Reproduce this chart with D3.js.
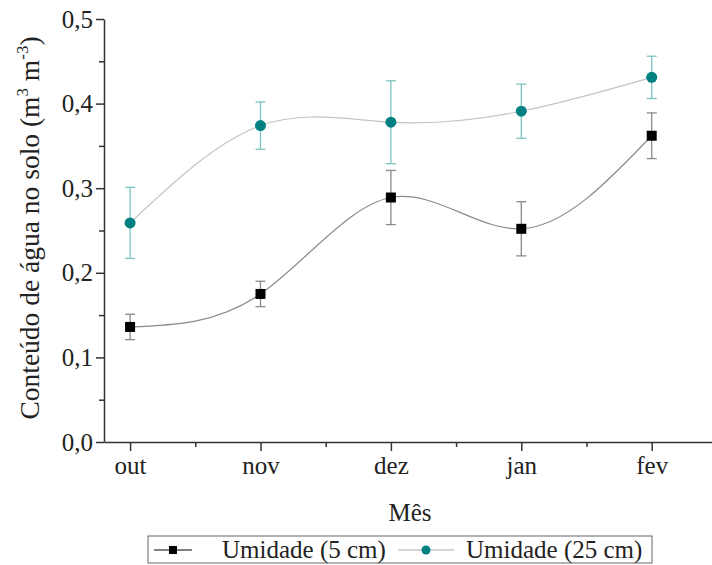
<!DOCTYPE html>
<html>
<head>
<meta charset="utf-8">
<script src="https://cdn.jsdelivr.net/npm/d3@7"></script>
<style>
  body { margin: 0; background: #fff; }
  svg text { font-family: "Liberation Serif", "Times New Roman", serif; fill: #222; }
</style>
</head>
<body>
<div id="chart"></div>
<script>
// Dados
const meses = ["out", "nov", "dez", "jan", "fev"];
const umidade5 = [0.136, 0.175, 0.289, 0.252, 0.362];
const erro5 = [0.015, 0.015, 0.032, 0.032, 0.027];
const umidade25 = [0.259, 0.374, 0.378, 0.391, 0.431];
const erro25 = [0.042, 0.028, 0.049, 0.032, 0.025];
const yTicks = [0, 0.1, 0.2, 0.3, 0.4, 0.5];
const yMinor = [0.05, 0.15, 0.25, 0.35, 0.45];
const xMinor = [0.5, 1.5, 2.5, 3.5];
const legenda = ["Umidade (5 cm)", "Umidade (25 cm)"];

const W = 712, H = 565;
const fs = 25;

const svg = d3.select("#chart")
    .append("svg")
    .attr("width", W)
    .attr("height", H);

const x = d3.scaleLinear().domain([-0.2, 4.47]).range([104, 713]);
const y = d3.scaleLinear().domain([0, 0.5]).range([442, 19]);

const fmt = d => d3.format(".1f")(d).replace(".", ",");

// Eixos
const xAxis = svg.append("g")
    .attr("transform", `translate(0, ${y(0)})`)
    .call(d3.axisBottom(x).tickValues(d3.range(meses.length)).tickFormat(i => meses[i])
        .tickSizeInner(9).tickSizeOuter(0).tickPadding(5));
xAxis.append("g")
    .call(d3.axisBottom(x).tickValues(xMinor).tickFormat("").tickSizeInner(5).tickSizeOuter(0))
    .select(".domain").remove();

const yAxis = svg.append("g")
    .attr("transform", `translate(${x(-0.2)}, 0)`)
    .call(d3.axisLeft(y).tickValues(yTicks).tickFormat(fmt)
        .tickSizeInner(8).tickSizeOuter(0).tickPadding(3));
yAxis.append("g")
    .call(d3.axisLeft(y).tickValues(yMinor).tickFormat("").tickSizeInner(5).tickSizeOuter(0))
    .select(".domain").remove();

svg.selectAll(".domain, .tick line").attr("stroke", "#333").attr("stroke-width", 1.5);
svg.selectAll(".tick text").attr("font-size", fs);

// Títulos
svg.append("text")
    .attr("x", 410).attr("y", 521)
    .attr("text-anchor", "middle")
    .attr("font-size", fs)
    .text("Mês");

const yt = svg.append("text")
    .attr("transform", "translate(39, 228) rotate(-90)")
    .attr("text-anchor", "middle")
    .attr("font-size", 27.5);
yt.append("tspan").text("Conteúdo de água no solo (m");
yt.append("tspan").attr("dy", -11).attr("font-size", 17).text("3");
yt.append("tspan").attr("dy", 11).text(" m");
yt.append("tspan").attr("dy", -11).attr("font-size", 17).text("-3");
yt.append("tspan").attr("dy", 11).text(")");

// Séries
const series = [
    { vals: umidade5, errs: erro5, line: "#8a8a8a", bar: "#8a8a8a", mark: "#000", shape: "square" },
    { vals: umidade25, errs: erro25, line: "#c4c4c4", bar: "#7cc4c0", mark: "#008080", shape: "circle" }
];

const lineGen = d3.line()
    .x((d, i) => x(i))
    .y(d => y(d))
    .curve(d3.curveNatural);

series.forEach(s => {
    svg.append("path")
        .attr("d", lineGen(s.vals))
        .attr("fill", "none")
        .attr("stroke", s.line)
        .attr("stroke-width", 1.2);
});

series.forEach(s => {
    const g = svg.append("g").attr("stroke", s.bar).attr("stroke-width", 1.3);
    s.vals.forEach((v, i) => {
        const cx = x(i);
        g.append("line").attr("x1", cx).attr("x2", cx).attr("y1", y(v - s.errs[i])).attr("y2", y(v + s.errs[i]));
        g.append("line").attr("x1", cx - 5).attr("x2", cx + 5).attr("y1", y(v - s.errs[i])).attr("y2", y(v - s.errs[i]));
        g.append("line").attr("x1", cx - 5).attr("x2", cx + 5).attr("y1", y(v + s.errs[i])).attr("y2", y(v + s.errs[i]));
    });
});

series.forEach(s => {
    s.vals.forEach((v, i) => {
        if (s.shape === "square") {
            svg.append("rect")
                .attr("x", x(i) - 5).attr("y", y(v) - 5)
                .attr("width", 10).attr("height", 10)
                .attr("fill", s.mark);
        } else {
            svg.append("circle")
                .attr("cx", x(i)).attr("cy", y(v)).attr("r", 5.5)
                .attr("fill", s.mark);
        }
    });
});

// Legenda
svg.append("rect")
    .attr("x", 148).attr("y", 536).attr("width", 504).attr("height", 27)
    .attr("fill", "#fff").attr("stroke", "#666").attr("stroke-width", 1);

const legX = [154, 398];
const legW = [38, 56];
const textX = [222, 466];
legenda.forEach((t, i) => {
    const s = series[i];
    const cy = 550;
    svg.append("line")
        .attr("x1", legX[i]).attr("x2", legX[i] + legW[i])
        .attr("y1", cy).attr("y2", cy)
        .attr("stroke", i === 0 ? "#000" : "#aaa").attr("stroke-width", 1);
    const mx = legX[i] + legW[i] / 2;
    if (s.shape === "square") {
        svg.append("rect").attr("x", mx - 4).attr("y", cy - 4).attr("width", 8).attr("height", 8).attr("fill", s.mark);
    } else {
        svg.append("circle").attr("cx", mx).attr("cy", cy).attr("r", 4.5).attr("fill", s.mark);
    }
    svg.append("text")
        .attr("x", textX[i]).attr("y", cy + 8)
        .attr("font-size", fs)
        .text(t);
});
</script>
</body>
</html>
